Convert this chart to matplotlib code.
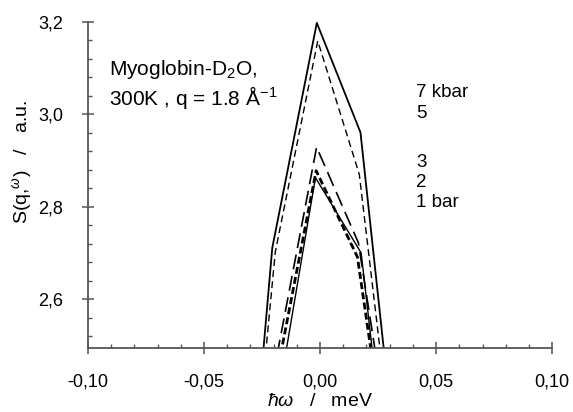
import numpy as np
import matplotlib
matplotlib.use("Agg")
import matplotlib.pyplot as plt
from matplotlib.ticker import MultipleLocator, FuncFormatter

plt.rcParams['font.family'] = ['Liberation Sans', 'DejaVu Sans']
plt.rcParams['mathtext.fontset'] = 'custom'
plt.rcParams['mathtext.rm'] = 'Liberation Sans'
plt.rcParams['mathtext.it'] = 'Liberation Sans:italic'

# values (energy transfer in meV, S(q,w) in a.u.)
x_7kbar = [-0.0246, -0.0206, -0.0014, 0.0174, 0.0277]
y_7kbar = [2.48, 2.711, 3.198, 2.961, 2.48]
x_5kbar = [-0.0235, -0.0193, -0.0010, 0.0169, 0.0261]
y_5kbar = [2.48, 2.702, 3.159, 2.870, 2.48]
x_3kbar = [-0.0185, -0.0015, 0.0165, 0.0240]
y_3kbar = [2.48, 2.929, 2.722, 2.48]
x_2kbar = [-0.0170, -0.0017, 0.0161, 0.0222]
y_2kbar = [2.48, 2.878, 2.691, 2.48]
x_1bar = [-0.0149, -0.0020, 0.0177, 0.0227]
y_1bar = [2.48, 2.863, 2.700, 2.48]

labels = ['7 kbar', '5', '3', '2', '1 bar']
label_y = [3.047, 3.002, 2.895, 2.852, 2.809]

fig = plt.figure(figsize=(5.73, 4.12), dpi=100)
ax = fig.add_axes([0.1536, 0.1553, 0.81, 0.7913])

ax.plot(x_7kbar, y_7kbar, color='black', lw=1.3, ls='-')
ax.plot(x_5kbar, y_5kbar, color='black', lw=1.0, ls=(0, (5, 3)))
ax.plot(x_3kbar, y_3kbar, color='black', lw=1.2, ls=(0, (9, 4)))
ax.plot(x_2kbar, y_2kbar, color='black', lw=2.0, ls=(0, (2.5, 1.2)))
ax.plot(x_1bar, y_1bar, color='black', lw=1.0, ls='-')

ax.set_xlim(-0.10, 0.10)
ax.set_ylim(2.494, 3.2)

for lab, ly in zip(labels, label_y):
    ax.text(0.0415, ly, lab, fontsize=13.5, va='center', ha='left')

ax.text(-0.0908, 3.085, 'Myoglobin-D$_2$O,', fontsize=15, va='baseline')
ax.text(-0.0908, 3.020, '300K , q = 1.8 Å$^{-1}$', fontsize=15, va='baseline')

ax.spines['top'].set_visible(False)
ax.spines['right'].set_visible(False)
for s in ['left', 'bottom']:
    ax.spines[s].set_color('#555555')
    ax.spines[s].set_linewidth(1.3)

comma = lambda fmt: FuncFormatter(lambda v, p: fmt.format(v).replace('.', ','))
ax.xaxis.set_major_locator(MultipleLocator(0.05))
ax.xaxis.set_minor_locator(MultipleLocator(0.01))
ax.yaxis.set_major_locator(MultipleLocator(0.2))
ax.yaxis.set_minor_locator(MultipleLocator(0.04))
ax.xaxis.set_major_formatter(comma('{:.2f}'))
ax.yaxis.set_major_formatter(comma('{:.1f}'))

ax.tick_params(which='major', direction='inout', length=8, width=1.1, color='#555555', labelsize=13)
ax.tick_params(which='minor', direction='in', length=3, width=1.0, color='#555555')
ax.tick_params(axis='x', which='major', pad=14)
ax.tick_params(axis='y', which='major', pad=14)

ax.set_xlabel(r'$\hbar\omega$   /   meV', fontsize=14, labelpad=2)
ax.set_ylabel(r'S(q,$^{\omega}$)   /   a.u.', fontsize=14, labelpad=6)
ax.yaxis.set_label_coords(-0.115, 0.57)

fig.savefig('out.png', dpi=100)
